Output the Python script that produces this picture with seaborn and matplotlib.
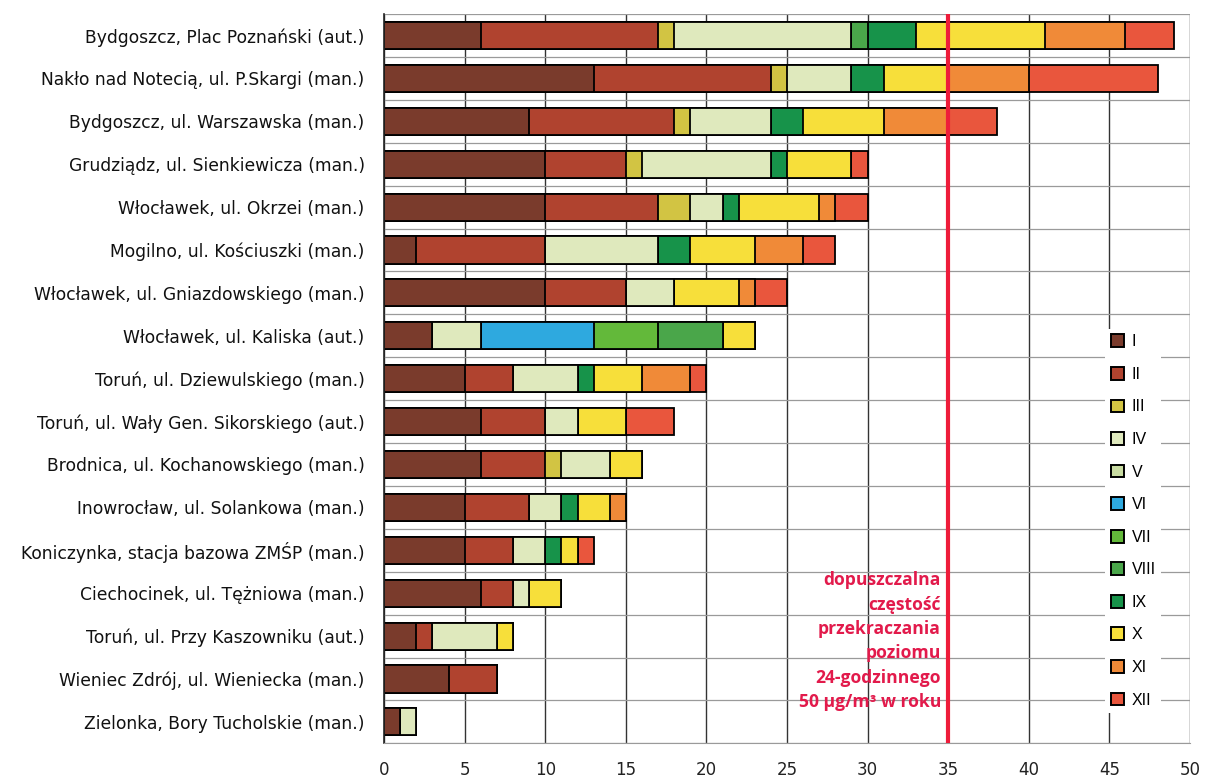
import numpy as np
import pandas as pd
import matplotlib
matplotlib.use("Agg")
import matplotlib.pyplot as plt
from matplotlib.patches import Patch
import seaborn as sns

stations = [
    "Bydgoszcz, Plac Poznański (aut.)",
    "Nakło nad Notecią, ul. P.Skargi (man.)",
    "Bydgoszcz, ul. Warszawska (man.)",
    "Grudziądz, ul. Sienkiewicza (man.)",
    "Włocławek, ul. Okrzei (man.)",
    "Mogilno, ul. Kościuszki (man.)",
    "Włocławek, ul. Gniazdowskiego (man.)",
    "Włocławek, ul. Kaliska (aut.)",
    "Toruń, ul. Dziewulskiego (man.)",
    "Toruń, ul. Wały Gen. Sikorskiego (aut.)",
    "Brodnica, ul. Kochanowskiego (man.)",
    "Inowrocław, ul. Solankowa (man.)",
    "Koniczynka, stacja bazowa ZMŚP (man.)",
    "Ciechocinek, ul. Tężniowa (man.)",
    "Toruń, ul. Przy Kaszowniku (aut.)",
    "Wieniec Zdrój, ul. Wieniecka (man.)",
    "Zielonka, Bory Tucholskie (man.)",
]
months = ["I", "II", "III", "IV", "V", "VI", "VII", "VIII", "IX", "X", "XI", "XII"]

# days above 50 ug/m3 per month, one list per month (order of stations above)
m_I    = [6, 13, 9, 10, 10, 2, 10, 3, 5, 6, 6, 5, 5, 6, 2, 4, 1]
m_II   = [11, 11, 9, 5, 7, 8, 5, 0, 3, 4, 4, 4, 3, 2, 1, 3, 0]
m_III  = [1, 1, 1, 1, 2, 0, 0, 0, 0, 0, 1, 0, 0, 0, 0, 0, 0]
m_IV   = [11, 4, 5, 8, 2, 7, 3, 3, 4, 2, 3, 2, 2, 1, 4, 0, 1]
m_V    = [0, 0, 0, 0, 0, 0, 0, 0, 0, 0, 0, 0, 0, 0, 0, 0, 0]
m_VI   = [0, 0, 0, 0, 0, 0, 0, 7, 0, 0, 0, 0, 0, 0, 0, 0, 0]
m_VII  = [0, 0, 0, 0, 0, 0, 0, 4, 0, 0, 0, 0, 0, 0, 0, 0, 0]
m_VIII = [1, 0, 0, 0, 0, 0, 0, 4, 0, 0, 0, 0, 0, 0, 0, 0, 0]
m_IX   = [3, 2, 2, 1, 1, 2, 0, 0, 1, 0, 0, 1, 1, 0, 0, 0, 0]
m_X    = [8, 4, 5, 4, 5, 4, 4, 2, 3, 3, 2, 2, 1, 2, 1, 0, 0]
m_XI   = [5, 5, 4, 0, 1, 3, 1, 0, 3, 0, 0, 1, 0, 0, 0, 0, 0]
m_XII  = [3, 8, 3, 1, 2, 2, 2, 0, 1, 3, 0, 0, 1, 0, 0, 0, 0]

month_colors = ["#7a3b2c", "#b0432f", "#d2c443", "#dfe9bd", "#c9dca2", "#2ea9df",
                "#63b93a", "#4aa64a", "#17934a", "#f7df3a", "#f08a38", "#e9563d"]

limit = 35

table = pd.DataFrame(
    np.array([m_I, m_II, m_III, m_IV, m_V, m_VI, m_VII, m_VIII, m_IX, m_X, m_XI, m_XII]).T,
    index=stations, columns=months)
cum = table.cumsum(axis=1)

fig = plt.figure(figsize=(12.08, 7.8), dpi=100)
ax = fig.add_axes([0.318, 0.047, 0.667, 0.935])
plt.rcParams['font.family'] = ['Open Sans', 'DejaVu Sans']

# stacked bars: draw the running totals from the last month back to the first
for k in range(len(months) - 1, -1, -1):
    df = pd.DataFrame({"station": stations, "days": cum[months[k]].values})
    sns.barplot(data=df, x="days", y="station", orient="h", color=month_colors[k],
                saturation=1, edgecolor="black", linewidth=1.3, width=0.63, ax=ax)

ax.set_xlim(0, 50)
ax.set_ylim(len(stations) - 0.5, -0.5)
ax.set_xticks(np.arange(0, 51, 5))
ax.set_yticks(np.arange(len(stations)), labels=stations)
ax.set_yticks(np.arange(len(stations) + 1) - 0.5, minor=True)
ax.set_axisbelow(True)
ax.grid(axis="x", which="major", color="#333333", linewidth=1.0)
ax.grid(axis="y", which="minor", color="#9a9a9a", linewidth=0.9)
ax.grid(axis="y", which="major", visible=False)
ax.tick_params(axis="both", which="both", length=0)
ax.tick_params(axis="y", pad=14, labelsize=12.3, labelcolor="#111111")
ax.tick_params(axis="x", pad=13, labelsize=12, labelcolor="#222222")
ax.set_xlabel("")
ax.set_ylabel("")
for s in ["top", "right"]:
    ax.spines[s].set_visible(False)
ax.spines["bottom"].set_color("#9a9a9a")
ax.spines["left"].set_color("#222222")
ax.spines["left"].set_linewidth(1.2)

ax.axvline(limit, color="#ee1c3a", linewidth=3, zorder=5)
ax.text(limit - 0.45, 14.12,
        "dopuszczalna\nczęstość\nprzekraczania\npoziomu\n24-godzinnego\n50 µg/m³ w roku",
        ha="right", va="center", color="#e21a4b", fontsize=12.6, fontweight="bold",
        linespacing=1.46, zorder=6)

handles = [Patch(facecolor=c, edgecolor="black", linewidth=1.4) for c in month_colors]
leg = ax.legend(handles, months, loc="center left", bbox_to_anchor=(0.895, 0.305),
                frameon=True, facecolor="white", edgecolor="none", framealpha=1,
                prop={"family": "Liberation Sans", "size": 11.5},
                handlelength=0.85, handleheight=0.85, handletextpad=0.45,
                labelspacing=1.1, borderpad=0.35, borderaxespad=0)
leg.set_zorder(7)

fig.savefig("out.png", dpi=100)
